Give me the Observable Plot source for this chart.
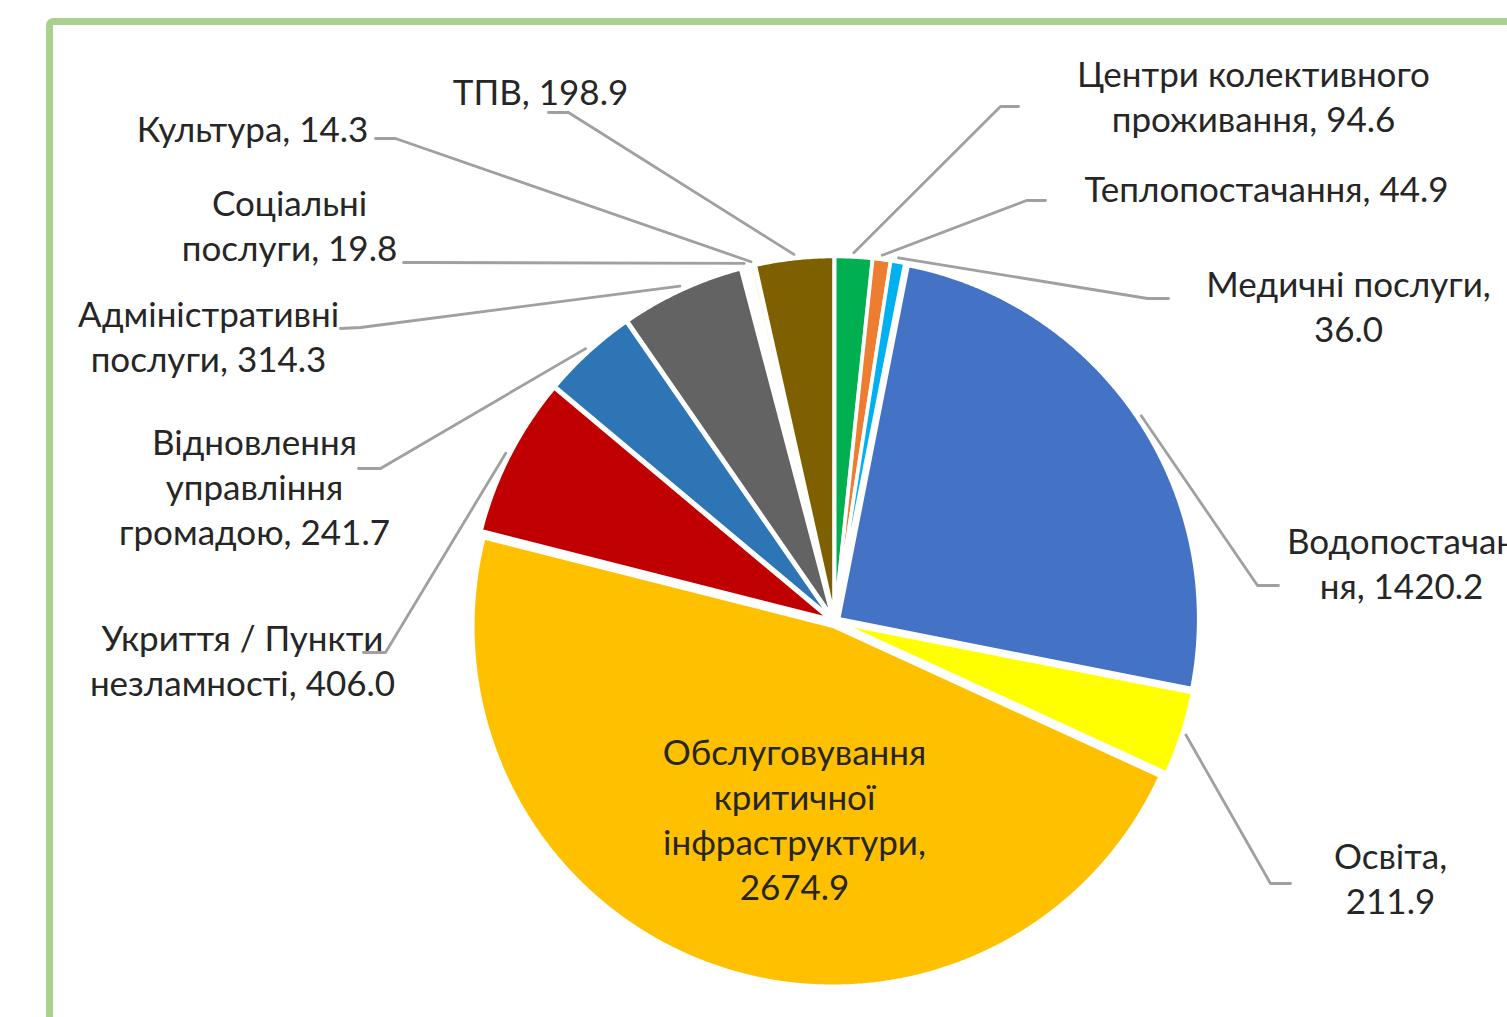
<!DOCTYPE html>
<html><head><meta charset="utf-8">
<script src="https://cdn.jsdelivr.net/npm/d3@7"></script>
<script src="https://cdn.jsdelivr.net/npm/@observablehq/plot@0.6"></script>
<style>
html,body{margin:0;padding:0;overflow:hidden;background:#fff;width:1507px;height:1017px;}
#frame{position:absolute;left:46px;top:18px;width:1600px;height:1100px;border:7px solid #a9d18e;border-radius:7px;box-sizing:border-box;}
#chart{position:absolute;left:0;top:0;}
</style></head><body>
<div id="frame"></div><div id="chart"></div>
<script>
// ---- data ----
const categories = ["Центри колективного проживання","Теплопостачання","Медичні послуги","Водопостачання","Освіта",
  "Обслуговування критичної інфраструктури","Укриття / Пункти незламності","Відновлення управління громадою",
  "Адміністративні послуги","Соціальні послуги","Культура","ТПВ"];
const values = [94.6, 44.9, 36.0, 1420.2, 211.9, 2674.9, 406.0, 241.7, 314.3, 19.8, 14.3, 198.9];
const colors = ["#00B050","#ED7D31","#00B0F0","#4472C4","#FFFF00","#FFC000","#C00000","#2E75B6","#636363","#FFFFFF","#FFF8E8","#7F6000"];
// where the label text wraps (break after these pieces)
const labelBreaks = [["колективного"],[],["послуги,"],["Водопостачан"],["Освіта,"],
  ["Обслуговування","критичної","інфраструктури,"],["Пункти"],["Відновлення","управління"],
  ["Адміністративні"],["Соціальні"],[],[]];

// ---- layout (picture pixels) ----
const W = 1507, H = 1017, CX = 834, CY = 621, R = 360, EXPLODE = 5;
const labelPos = [[1253,98],[1266,190],[1348,308],[1401,565],[1390,880],[794,821],[242,662],[254,488],[208,338],[289,227],[252,130],[540,93]];
const leaderStart = [[[1018,106],[1000,106]],[[1045,200],[1026,200]],[[1168,298],[1147,298]],[[1278,585],[1257,585]],
  [[1290,883],[1270,883]],null,[[363,652],[385,652]],[[358,468],[380,468]],[[340,328],[360,327]],
  [[403,262],[425,262]],[[375,138],[395,138]],[[548,112],[568,112]]];

const ux = px => (px - CX) / R, uy = py => (CY - py) / R;
const ex = EXPLODE / R;

const arcs = d3.pie().sort(null).startAngle(0).endAngle(2 * Math.PI)(values);

const marks = [];
// leader lines
arcs.forEach((a, i) => {
  if (!leaderStart[i]) return;
  const mid = (a.startAngle + a.endAngle) / 2;
  const rr = 1.012 + ex;
  const pts = leaderStart[i].map(([px, py]) => ({x: ux(px), y: uy(py)}));
  pts.push({x: rr * Math.sin(mid), y: rr * Math.cos(mid)});
  marks.push(Plot.line(pts, {x: "x", y: "y", stroke: "#a0a0a0", strokeWidth: 2.8}));
});
// slices
arcs.forEach((a, i) => {
  const mid = (a.startAngle + a.endAngle) / 2;
  const ox = ex * Math.sin(mid), oy = ex * Math.cos(mid);
  const step = Math.PI / 720;
  const n = Math.max(2, Math.ceil((a.endAngle - a.startAngle) / step) + 1);
  const pts = [{x: ox, y: oy}];
  for (let k = 0; k < n; k++) {
    const t = a.startAngle + (a.endAngle - a.startAngle) * k / (n - 1);
    pts.push({x: ox + Math.sin(t), y: oy + Math.cos(t)});
  }
  marks.push(Plot.line(pts, {x: "x", y: "y", curve: "linear-closed", fill: colors[i], stroke: "white", strokeWidth: 3.5, strokeLinejoin: "miter"}));
});
// labels
const labels = categories.map((c, i) => {
  let t = `${c}, ${values[i].toFixed(1)}`;
  for (const b of labelBreaks[i]) {
    t = t.includes(b + " ") ? t.replace(b + " ", b + "\n") : t.replace(b, b + "\n");
  }
  return {text: t, x: ux(labelPos[i][0]), y: uy(labelPos[i][1])};
});
marks.push(Plot.text(labels, {x: "x", y: "y", text: "text", fontSize: 35, lineHeight: 45 / 35, dy: -3, fill: "#262626", textAnchor: "middle"}));

const chart = Plot.plot({
  width: W, height: H, margin: 0,
  x: {domain: [ux(0), ux(W)], axis: null},
  y: {domain: [uy(H), uy(0)], axis: null},
  style: {background: "transparent", fontFamily: "Lato, 'Open Sans', sans-serif", overflow: "hidden"},
  marks
});
document.getElementById("chart").appendChild(chart);
</script>
</body></html>
